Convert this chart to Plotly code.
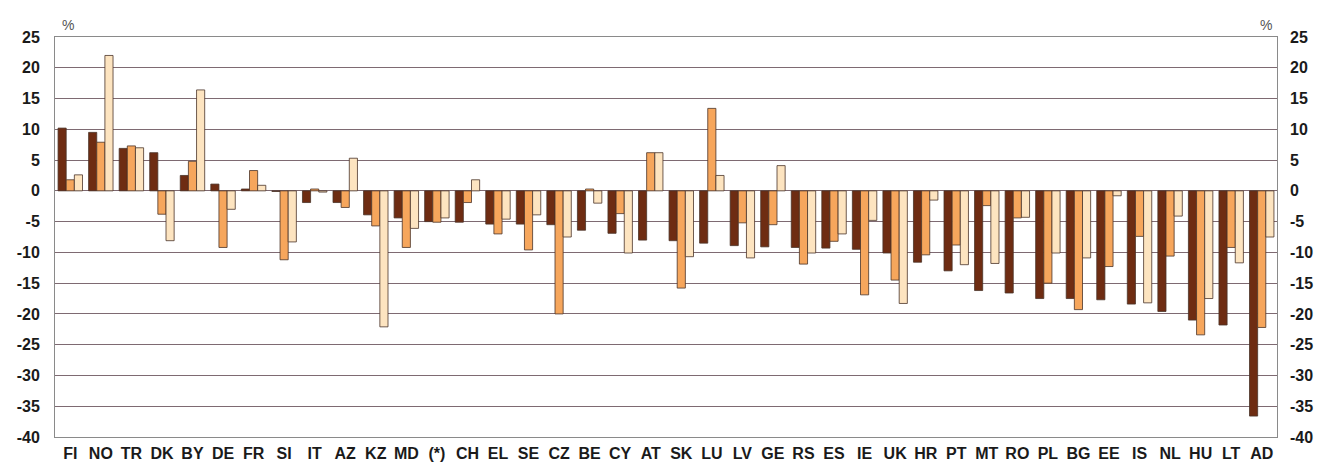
import plotly.graph_objects as go

categories = ["FI", "NO", "TR", "DK", "BY", "DE", "FR", "SI", "IT", "AZ",
              "KZ", "MD", "(*)", "CH", "EL", "SE", "CZ", "BE", "CY", "AT",
              "SK", "LU", "LV", "GE", "RS", "ES", "IE", "UK", "HR", "PT",
              "MT", "RO", "PL", "BG", "EE", "IS", "NL", "HU", "LT", "AD"]

series_a = [10.2, 9.5, 6.9, 6.2, 2.5, 1.1, 0.3, -0.1, -1.9, -1.9,
            -3.9, -4.4, -5.0, -5.1, -5.4, -5.4, -5.5, -6.4, -6.9, -8.0,
            -8.1, -8.5, -8.9, -9.1, -9.2, -9.3, -9.5, -10.1, -11.6, -13.0,
            -16.2, -16.6, -17.5, -17.5, -17.7, -18.4, -19.6, -21.0, -21.8, -36.6]

series_b = [1.8, 7.9, 7.3, -3.8, 4.8, -9.2, 3.3, -11.2, 0.3, -2.7,
            -5.7, -9.2, -5.1, -1.9, -7.0, -9.6, -20.0, 0.3, -3.7, 6.2,
            -15.8, 13.4, -5.2, -5.5, -11.9, -8.2, -16.9, -14.5, -10.4, -8.8,
            -2.4, -4.4, -15.0, -19.3, -12.3, -7.4, -10.6, -23.4, -9.2, -22.2]

series_c = [2.6, 22.0, 7.0, -8.1, 16.4, -3.0, 0.9, -8.3, -0.2, 5.3,
            -22.1, -6.1, -4.4, 1.8, -4.6, -3.9, -7.5, -2.0, -10.1, 6.2,
            -10.7, 2.5, -10.9, 4.1, -10.1, -7.0, -4.8, -18.3, -1.5, -12.0,
            -11.8, -4.3, -10.1, -10.9, -0.8, -18.2, -4.1, -17.5, -11.7, -7.5]

y_ticks = list(range(-40, 30, 5))
y_ticktext = [str(v) for v in y_ticks]

colors = ["#6e2c12", "#f6a65c", "#fde4c0"]
FONT = "Liberation Sans Narrow, Arial Narrow, Liberation Sans, Arial, sans-serif"

fig = go.Figure()
for vals, col, nm in zip([series_a, series_b, series_c], colors, ["A", "B", "C"]):
    fig.add_trace(go.Bar(
        x=categories, y=vals, name=nm, marker_color=col,
        marker_line_color="#4a3428", marker_line_width=0.8,
        showlegend=False,
    ))

fig.add_trace(go.Scatter(x=[categories[0]], y=[None], yaxis="y2",
                         showlegend=False, hoverinfo="skip", mode="lines"))

grid_col = "#7e6a72"
fig.update_layout(
    width=1314, height=460,
    margin=dict(l=47, r=45, t=29, b=31),
    paper_bgcolor="white", plot_bgcolor="white",
    barmode="group", bargap=0.2, bargroupgap=0,
    font=dict(family=FONT, color="#1a1a1a"),
    xaxis=dict(
        range=[-0.5, len(categories) - 0.5], automargin=False,
        tickfont=dict(family=FONT, size=16, color="#1a1a1a", weight="bold"),
        showline=True, linecolor="#8a8a8a", linewidth=1, mirror=True,
        ticks="", showgrid=False, ticklabelstandoff=2,
    ),
    yaxis=dict(
        range=[-40, 25], tickvals=y_ticks, ticktext=y_ticktext, automargin=False,
        tickfont=dict(family=FONT, size=16, color="#1a1a1a", weight="bold"),
        showgrid=True, gridcolor=grid_col, gridwidth=1.3,
        zeroline=True, zerolinecolor=grid_col, zerolinewidth=1.3,
        showline=True, linecolor="#8a8a8a", linewidth=1, mirror=True,
        ticks="", ticklabelstandoff=11,
    ),
    yaxis2=dict(
        range=[-40, 25], tickvals=y_ticks, ticktext=y_ticktext, automargin=False,
        overlaying="y", side="right", showgrid=False, zeroline=False,
        tickfont=dict(family=FONT, size=16, color="#1a1a1a", weight="bold"),
        ticks="", ticklabelstandoff=12, showline=False,
    ),
    annotations=[
        dict(text="%", x=0, xref="paper", xanchor="left", xshift=5,
             y=1, yref="paper", yanchor="bottom", yshift=2, showarrow=False,
             font=dict(family=FONT, size=14, color="#555")),
        dict(text="%", x=1, xref="paper", xanchor="right", xshift=-3,
             y=1, yref="paper", yanchor="bottom", yshift=2, showarrow=False,
             font=dict(family=FONT, size=14, color="#555")),
    ],
)

fig.write_html("out.html")
